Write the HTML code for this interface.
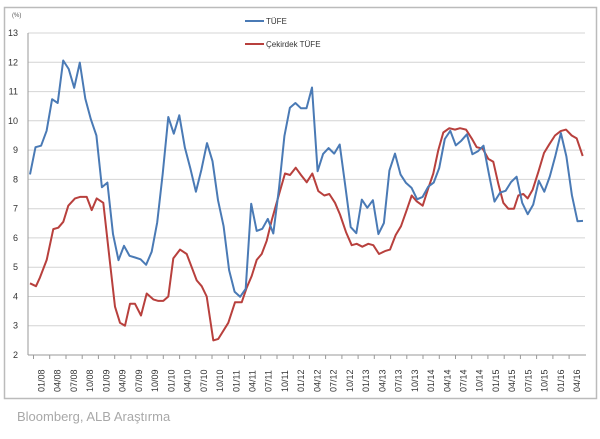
<!DOCTYPE html>
<html><head><meta charset="utf-8"><style>
body{margin:0;background:#fff;width:600px;height:434px;overflow:hidden;font-family:"Liberation Sans",sans-serif}
</style></head><body>
<svg id="s" width="600" height="434" xmlns="http://www.w3.org/2000/svg" font-family="Liberation Sans, sans-serif">
<rect x="4.5" y="7.5" width="592" height="391" fill="#fff" stroke="#bbb" stroke-width="1.5"/>
<text x="17" y="421" font-size="13" fill="#a8a8a8">Bloomberg, ALB Araştırma</text>
<text x="12" y="17" font-size="6" fill="#555">(%)</text>
<g id="g"></g>
<line x1="245" y1="21" x2="264" y2="21" stroke="#4a7ab5" stroke-width="2"/>
<text x="266" y="24" font-size="8" fill="#333">TÜFE</text>
<line x1="245" y1="44" x2="264" y2="44" stroke="#b8403d" stroke-width="2"/>
<text x="266" y="47" font-size="8" fill="#333">Çekirdek TÜFE</text>
</svg>
<script>
var g=document.getElementById('g'),h='';
function Y(v){return 355-(v-2)*29.27;}
for(var v=2;v<=13;v++){var y=Y(v).toFixed(1);
h+='<line x1="28" y1="'+y+'" x2="585" y2="'+y+'" stroke="#d4d4d4" stroke-width="1"/>';
h+='<text x="18" y="'+(+y+3)+'" font-size="9" text-anchor="end" fill="#333">'+v+'</text>';}
h+='<line x1="28" y1="33" x2="28" y2="355" stroke="#999"/><line x1="28" y1="355" x2="586" y2="355" stroke="#999"/>';
var labs=[];var yrs=['08','09','10','11','12','13','14','15','16'];var ms=['01','04','07','10'];
for(var i=0;i<yrs.length;i++)for(var j=0;j<4;j++)labs.push(ms[j]+'/'+yrs[i]);
labs=labs.slice(0,34);
for(var k=0;k<34;k++){var x=41.5+k*16.23;
h+='<line x1="'+(x-8).toFixed(1)+'" y1="355" x2="'+(x-8).toFixed(1)+'" y2="359" stroke="#999"/>';
h+='<text transform="translate('+(x+3).toFixed(1)+',392) rotate(-90)" font-size="9" fill="#333">'+labs[k]+'</text>';}
var b=[8.17,9.10,9.15,9.66,10.74,10.61,12.06,11.77,11.13,11.99,10.76,10.06,9.50,7.73,7.89,6.13,5.24,5.73,5.39,5.33,5.27,5.08,5.53,6.53,8.19,10.13,9.56,10.19,9.10,8.37,7.58,8.33,9.24,8.62,7.29,6.40,4.90,4.16,3.99,4.26,7.17,6.24,6.31,6.65,6.15,7.66,9.48,10.45,10.61,10.43,10.43,11.14,8.28,8.87,9.07,8.88,9.19,7.80,6.37,6.16,7.31,7.03,7.29,6.13,6.51,8.30,8.88,8.17,7.88,7.71,7.32,7.40,7.75,7.89,8.39,9.38,9.66,9.16,9.32,9.54,8.86,8.96,9.15,8.17,7.24,7.55,7.61,7.91,8.09,7.20,6.81,7.14,7.95,7.58,8.10,8.81,9.58,8.78,7.46,6.57,6.58];
var pb=b.map(function(v,i){return (30+i*5.53).toFixed(1)+','+Y(v).toFixed(1)}).join(' ');
var r=[[30,4.45],[36,4.35],[40,4.65],[46.7,5.25],[53.3,6.3],[58.3,6.35],[63.3,6.55],[68.3,7.1],[75,7.35],[80,7.4],[86.7,7.4],[91.7,6.95],[96.7,7.35],[103.3,7.2],[110,5.15],[115,3.65],[120,3.1],[125,3.0],[130,3.75],[135,3.75],[141,3.35],[146.7,4.1],[153.3,3.9],[158.3,3.85],[163.3,3.85],[168.3,4.0],[173.3,5.3],[180,5.6],[186.7,5.45],[191.7,5.0],[196.7,4.55],[201.7,4.35],[206.7,4.0],[213.3,2.5],[218.3,2.55],[228.3,3.1],[235,3.8],[241.7,3.8],[246.7,4.3],[251.7,4.7],[256.7,5.25],[261.7,5.45],[266.7,5.9],[271.7,6.6],[278.3,7.4],[285,8.2],[290,8.15],[295.7,8.4],[301,8.15],[306.7,7.9],[312.3,8.2],[318.3,7.6],[324.3,7.45],[329.3,7.5],[335,7.2],[340,6.8],[346,6.2],[351.7,5.75],[356.7,5.8],[362.3,5.7],[368.3,5.8],[373.3,5.75],[379,5.45],[385,5.55],[390,5.6],[395.7,6.1],[401,6.4],[406.7,6.95],[411.7,7.45],[416.7,7.25],[422.7,7.1],[428.3,7.7],[433.3,8.2],[438.3,9.0],[443.3,9.6],[449.3,9.75],[455,9.7],[460,9.75],[466,9.7],[471.7,9.4],[476.7,9.1],[482.7,9.05],[488.3,8.7],[493.3,8.6],[498.3,7.85],[503.3,7.2],[508.3,7.0],[514,7.0],[518.3,7.45],[523.3,7.5],[527.7,7.35],[532.7,7.65],[538.3,8.25],[544,8.9],[549.3,9.2],[555,9.5],[560.7,9.65],[566,9.7],[571.7,9.5],[576.7,9.4],[582.7,8.8]];
var pr=r.map(function(p){return p[0]+','+Y(p[1]).toFixed(1)}).join(' ');
h+='<polyline points="'+pr+'" fill="none" stroke="#b8403d" stroke-width="2" stroke-linejoin="round"/>';
h+='<polyline points="'+pb+'" fill="none" stroke="#4a7ab5" stroke-width="2" stroke-linejoin="round"/>';
g.innerHTML=h;
</script>
</body></html>
